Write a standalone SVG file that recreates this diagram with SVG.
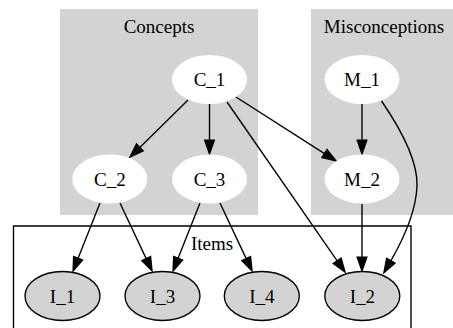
<svg xmlns="http://www.w3.org/2000/svg" width="453" height="328" viewBox="0 0 453 328">
<style>
.cl{fill:#d3d3d3;stroke:none}
.box{fill:none;stroke:#000;stroke-width:1.37}
text{font-family:'Liberation Serif','DejaVu Serif',serif;font-size:19px;fill:#000;text-anchor:middle}
.n ellipse{fill:#fff;stroke:none}
.it ellipse{fill:#d3d3d3;stroke:#000;stroke-width:1.37}
.e{fill:none;stroke:#000;stroke-width:1.37;marker-end:url(#ah)}
</style>
<defs>
<marker id="ah" markerUnits="userSpaceOnUse" markerWidth="16" markerHeight="12" viewBox="-1 -1 16 12" refX="0" refY="5" orient="auto" overflow="visible">
<path d="M0,0.2 L13.7,5 L0,9.8 Z" fill="#000" stroke="#000" stroke-width="1.37"/>
</marker>
</defs>
<rect width="453" height="328" fill="#fff"/>
<g id="cluster_concepts">
<rect class="cl" x="60" y="9" width="198" height="206"/>
<text x="159" y="33.3" font-family="Liberation Serif, serif">Concepts</text>
</g>
<g id="cluster_misconceptions">
<rect class="cl" x="311" y="9" width="150" height="206"/>
<text x="384" y="33.3" font-family="Liberation Serif, serif">Misconceptions</text>
</g>
<g id="cluster_items">
<path class="box" d="M13.5,340 L13.5,226 L411,226 L411,340"/>
<text x="212" y="250" font-family="Liberation Serif, serif">Items</text>
</g>
<g id="edges">
<path class="e" d="M188,100 L139.8,147.4"/>
<path class="e" d="M209.5,104 L209.5,140.3"/>
<path class="e" d="M236,97 L324.5,153.6"/>
<path class="e" d="M227,102 L337.2,260.8"/>
<path class="e" d="M362,104 L362,140.3"/>
<path class="e" d="M381.5,101 C398,125 418,158 417,186 C416,212 404,238 390.8,260.8"/>
<path class="e" d="M362,204 L362,257.3"/>
<path class="e" d="M100,203 L78.1,258.3"/>
<path class="e" d="M120,203 L146.2,258.6"/>
<path class="e" d="M200,203 L178.1,258.3"/>
<path class="e" d="M220,203 L246.2,258.6"/>
</g>
<g id="C_1" class="n"><ellipse cx="209.5" cy="79.5" rx="37.5" ry="24.5"/><text x="209.5" y="86.3">C_1</text></g>
<g id="M_1" class="n"><ellipse cx="362" cy="79.5" rx="37.5" ry="24.5"/><text x="362" y="86.3">M_1</text></g>
<g id="C_2" class="n"><ellipse cx="109.8" cy="179" rx="37.5" ry="24.5"/><text x="109.8" y="185.8">C_2</text></g>
<g id="C_3" class="n"><ellipse cx="209.5" cy="179" rx="37.5" ry="24.5"/><text x="209.5" y="185.8">C_3</text></g>
<g id="M_2" class="n"><ellipse cx="362" cy="179" rx="37.5" ry="24.5"/><text x="362" y="185.8">M_2</text></g>
<g id="I_1" class="it"><ellipse cx="62.5" cy="296" rx="37.5" ry="24.5"/><text x="62.5" y="302.8">I_1</text></g>
<g id="I_3" class="it"><ellipse cx="162.5" cy="296" rx="37.5" ry="24.5"/><text x="162.5" y="302.8">I_3</text></g>
<g id="I_4" class="it"><ellipse cx="261.8" cy="296" rx="37.5" ry="24.5"/><text x="261.8" y="302.8">I_4</text></g>
<g id="I_2" class="it"><ellipse cx="362.3" cy="296" rx="37.5" ry="24.5"/><text x="362.3" y="302.8">I_2</text></g>
</svg>
